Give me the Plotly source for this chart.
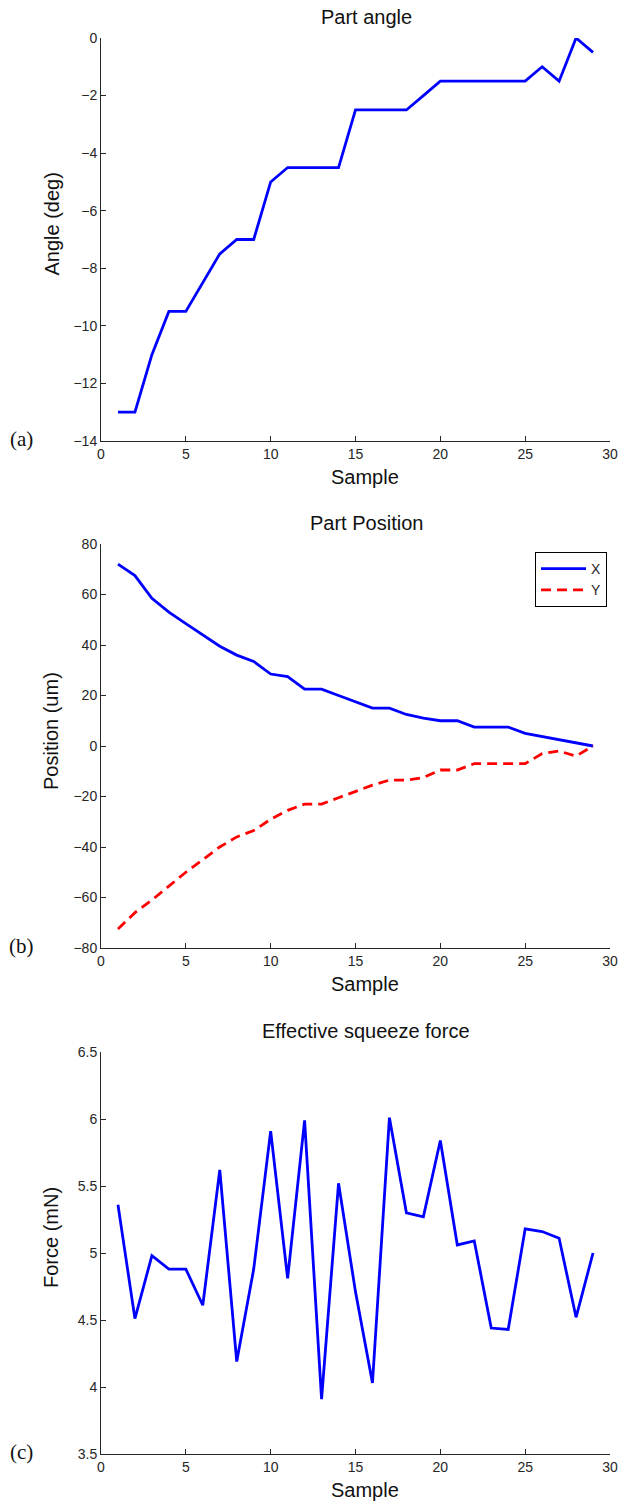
import plotly.graph_objects as go

# ---------------- data ----------------
samples = list(range(1, 30))

angle_deg = [-13, -13, -11, -9.5, -9.5, -8.5, -7.5, -7, -7, -5,
             -4.5, -4.5, -4.5, -4.5, -2.5, -2.5, -2.5, -2.5, -2, -1.5,
             -1.5, -1.5, -1.5, -1.5, -1.5, -1, -1.5, 0, -0.5]

pos_x = [72, 67.5, 58.5, 53, 48.5, 44, 39.5, 36, 33.5, 28.5,
         27.5, 22.5, 22.5, 20, 17.5, 15, 15, 12.5, 11, 10,
         10, 7.5, 7.5, 7.5, 5, 3.7, 2.5, 1.2, 0]

pos_y = [-72.5, -66, -61, -55.5, -50, -45, -40, -36, -33.5, -29,
         -25.5, -23, -23, -20.5, -18, -15.5, -13.5, -13.5, -12.5, -9.5,
         -9.5, -7, -7, -7, -7, -3, -2, -4, 0]

force_mN = [5.36, 4.51, 4.98, 4.88, 4.88, 4.61, 5.62, 4.19, 4.88, 5.91,
            4.81, 5.99, 3.91, 5.52, 4.71, 4.03, 6.01, 5.30, 5.27, 5.84,
            5.06, 5.09, 4.44, 4.43, 5.18, 5.16, 5.11, 4.52, 5.00]

x_ticks = [0, 5, 10, 15, 20, 25, 30]

# ---------------- layout helpers ----------------
W, H = 624, 1501
BLUE = "#0000FF"
RED = "#FF0000"
AXC = "#262626"
FONT = "Liberation Sans, Arial, sans-serif"
LW = 2.8


def px_x(p):
    return p / W


def px_y(p):
    return 1 - p / H


x_dom = [px_x(101), px_x(610)]
panels = [
    dict(top=38, bot=441, rng=[-14, 0], dtick=2, title="Part angle",
         ylab="Angle (deg)", tag="(a)"),
    dict(top=544, bot=948, rng=[-80, 80], dtick=20, title="Part Position",
         ylab="Position (um)", tag="(b)"),
    dict(top=1052, bot=1454, rng=[3.5, 6.5], dtick=0.5,
         title="Effective squeeze force", ylab="Force (mN)", tag="(c)"),
]

fig = go.Figure()

fig.add_trace(go.Scatter(x=samples, y=angle_deg, mode="lines",
                         line=dict(color=BLUE, width=LW),
                         xaxis="x", yaxis="y", showlegend=False))
fig.add_trace(go.Scatter(x=samples, y=pos_x, mode="lines", name="X",
                         line=dict(color=BLUE, width=LW),
                         xaxis="x2", yaxis="y2", showlegend=True))
fig.add_trace(go.Scatter(x=samples, y=pos_y, mode="lines", name="Y",
                         line=dict(color=RED, width=LW, dash="10px,6px"),
                         xaxis="x2", yaxis="y2", showlegend=True))
fig.add_trace(go.Scatter(x=samples, y=force_mN, mode="lines",
                         line=dict(color=BLUE, width=LW),
                         xaxis="x3", yaxis="y3", showlegend=False))

layout = dict(
    width=W, height=H,
    margin=dict(l=0, r=0, t=0, b=0),
    paper_bgcolor="white", plot_bgcolor="white",
    font=dict(family=FONT, color=AXC, size=14),
    legend=dict(x=px_x(535), y=px_y(552), xanchor="left", yanchor="top",
                bordercolor="black", borderwidth=1, bgcolor="white",
                font=dict(size=14, color=AXC), tracegroupgap=0,
                itemwidth=45),
    annotations=[],
)

for i, p in enumerate(panels):
    sfx = "" if i == 0 else str(i + 1)
    ydom = [px_y(p["bot"]), px_y(p["top"])]
    layout["xaxis" + sfx] = dict(
        domain=x_dom, anchor="y" + sfx, range=[0, 30],
        tickmode="array", tickvals=x_ticks,
        ticks="inside", ticklen=5, tickcolor=AXC, tickwidth=1,
        showline=True, linecolor=AXC, linewidth=1,
        showgrid=False, zeroline=False,
        tickfont=dict(size=14, color=AXC, family=FONT),
        automargin=False,
    )
    layout["yaxis" + sfx] = dict(
        domain=ydom, anchor="x" + sfx, range=p["rng"],
        dtick=p["dtick"], tick0=p["rng"][0],
        ticks="inside", ticklen=5, tickcolor=AXC, tickwidth=1,
        showline=True, linecolor=AXC, linewidth=1,
        showgrid=False, zeroline=False,
        tickfont=dict(size=14, color=AXC, family=FONT),
        automargin=False,
    )
    layout["annotations"] += [
        dict(text=p["title"], x=px_x(366), y=px_y(p["top"] - 21),
             xref="paper", yref="paper", showarrow=False,
             xanchor="center", yanchor="middle",
             font=dict(size=20, color="#111", family=FONT)),
        dict(text="Sample", x=px_x(365), y=px_y(p["bot"] + 36),
             xref="paper", yref="paper", showarrow=False,
             xanchor="center", yanchor="middle",
             font=dict(size=20, color="#111", family=FONT)),
        dict(text=p["ylab"], x=px_x(51), y=px_y((p["top"] + p["bot"]) / 2 - 15),
             xref="paper", yref="paper", showarrow=False, textangle=-90,
             xanchor="center", yanchor="middle",
             font=dict(size=20, color="#111", family=FONT)),
        dict(text=p["tag"], x=px_x(21), y=px_y(p["bot"] - 2),
             xref="paper", yref="paper", showarrow=False,
             xanchor="center", yanchor="middle",
             font=dict(size=21, color="#111", family="Liberation Serif, Times New Roman, serif")),
    ]

fig.update_layout(**layout)
fig.write_html(
    "out.html",
    config={"displayModeBar": False},
    post_script="document.body.style.margin='0px';document.body.style.overflow='hidden';",
)
